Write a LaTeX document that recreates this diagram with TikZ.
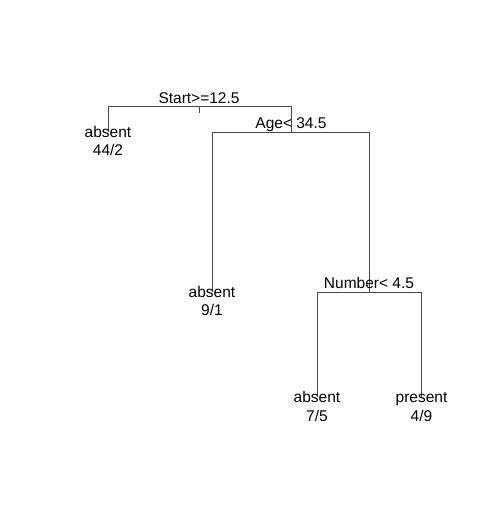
\documentclass[tikz,border=0pt]{standalone}
\usepackage{fontspec}
\setmainfont{Liberation Sans}
\begin{document}
\begin{tikzpicture}[x=1pt,y=-1pt,
  edge/.style={draw=black!72,line width=0.75pt},
  lbl/.style={inner sep=0pt,anchor=base,font=\fontsize{15.5}{18.5}\selectfont},
  leaf/.style={inner sep=0pt,anchor=base,align=center,font=\fontsize{15.5}{18.5}\selectfont}]
\useasboundingbox (0,0) rectangle (491,524);
% split points
\coordinate (root) at (199,106);
\coordinate (rootL) at (108,106);
\coordinate (rootR) at (291,106);
\coordinate (roottick) at (199,113);
\coordinate (age) at (291,132);
\coordinate (ageL) at (212,132);
\coordinate (ageR) at (369,132);
\coordinate (num) at (369,292);
\coordinate (numL) at (317,292);
\coordinate (numR) at (421.5,292);
\coordinate (l1) at (108,132);
\coordinate (l2) at (212,292);
\coordinate (l3) at (317,396.5);
\coordinate (l4) at (421.5,396.5);
% connectors
\draw[edge] (rootL) -- (rootR);
\draw[edge] (root) -- (roottick);
\draw[edge] (rootL) -- (l1);
\draw[edge] (rootR) -- (age);
\draw[edge] (ageL) -- (ageR);
\draw[edge] (ageL) -- (l2);
\draw[edge] (ageR) -- (num);
\draw[edge] (numL) -- (numR);
\draw[edge] (numL) -- (l3);
\draw[edge] (numR) -- (l4);
% labels
\node[lbl] (tstart) at (199,103) {Start>=12.5};
\node[lbl] (tage) at (291,128.5) {Age< 34.5};
\node[lbl] (tnum) at (369,288.8) {Number< 4.5};
\node[leaf] (t1) at (108,155.8) {absent\\44/2};
\node[leaf] (t2) at (212,315.8) {absent\\9/1};
\node[leaf] (t3) at (317,421) {absent\\7/5};
\node[leaf] (t4) at (421.5,421) {present\\4/9};
\end{tikzpicture}
\end{document}
